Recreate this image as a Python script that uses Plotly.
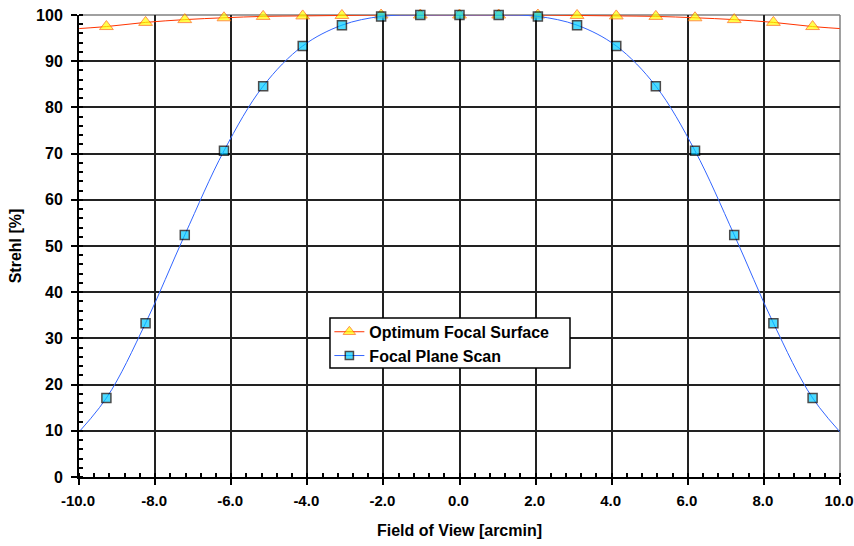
import plotly.graph_objects as go

# Field positions (arcmin), markers at k*1.031; line endpoints beyond axis
fov = [-10.31, -9.28, -8.25, -7.22, -6.19, -5.16, -4.12, -3.09, -2.06, -1.03, 0.0,
       1.03, 2.06, 3.09, 4.12, 5.16, 6.19, 7.22, 8.25, 9.28, 10.31]
optimum = [96.9, 97.5, 98.4, 99.0, 99.4, 99.7, 99.8, 99.9, 100.0, 100.0, 100.0,
           100.0, 100.0, 99.9, 99.8, 99.7, 99.4, 99.0, 98.4, 97.5, 96.9]
scan = [7.0, 17.1, 33.3, 52.4, 70.6, 84.6, 93.3, 97.8, 99.7, 100.0, 100.0,
        100.0, 99.7, 97.8, 93.3, 84.6, 70.6, 52.4, 33.3, 17.1, 7.0]
marker_shown = [0] + [1] * 19 + [0]

x_ticks = [-10, -8, -6, -4, -2, 0, 2, 4, 6, 8, 10]
y_ticks = list(range(0, 101, 10))

FONT = "Liberation Sans, Arial, sans-serif"

fig = go.Figure()
fig.add_trace(go.Scatter(
    x=fov, y=optimum, name="Optimum Focal Surface", mode="lines+markers",
    line=dict(color="#FF3300", width=1, shape="spline"),
    marker=dict(symbol="triangle-up", size=[12 * m for m in marker_shown],
                color="#FFFF00", line=dict(color="#FF6600", width=1)),
    cliponaxis=False,
))
fig.add_trace(go.Scatter(
    x=fov, y=scan, name="Focal Plane Scan", mode="lines+markers",
    line=dict(color="#3366FF", width=1, shape="spline"),
    marker=dict(symbol="square", size=[9 * m for m in marker_shown],
                color="#00CCFF", line=dict(color="#000000", width=1.5)),
    cliponaxis=False,
))

fig.update_layout(
    width=854, height=546,
    margin=dict(l=79, r=14, t=15, b=69),
    paper_bgcolor="white", plot_bgcolor="white",
    font=dict(family=FONT, size=16, color="black"),
    showlegend=True,
    legend=dict(
        x=0.329, y=0.351, xanchor="left", yanchor="top",
        bgcolor="rgba(0,0,0,0)", borderwidth=0,
        font=dict(family=FONT, size=16, color="black", weight="bold"),
        tracegroupgap=0, itemwidth=30,
    ),
    xaxis=dict(
        range=[-10, 10], tickvals=x_ticks,
        ticktext=[f"{v:.1f}" for v in x_ticks],
        tickfont=dict(family=FONT, size=15, weight="bold"),
        automargin=False, ticklabeloverflow="allow",
        showgrid=True, gridcolor="#222222", gridwidth=1.5,
        showline=True, linecolor="black", linewidth=2, mirror=False,
        ticks="outside", ticklen=6, tickcolor="black", tickwidth=1.5,
        ticklabelstandoff=3, ticklabelshift=-1,
        minor=dict(dtick=0.4, ticks="inside", ticklen=4, tickcolor="black", showgrid=False),
        zeroline=False,
        title=dict(text="Field of View [arcmin]", standoff=17,
                   font=dict(family=FONT, size=16, weight="bold")),
    ),
    yaxis=dict(
        range=[0, 100], tickvals=y_ticks,
        tickfont=dict(family=FONT, size=16, weight="bold"),
        automargin=False, ticklabeloverflow="allow",
        showgrid=True, gridcolor="#222222", gridwidth=1.5,
        showline=True, linecolor="black", linewidth=2,
        ticks="outside", ticklen=6, tickcolor="black", tickwidth=1.5,
        ticklabelstandoff=5,
        minor=dict(dtick=2, ticks="inside", ticklen=4, tickcolor="black", showgrid=False),
        zeroline=False,
        title=dict(text="Strehl [%]", standoff=10,
                   font=dict(family=FONT, size=16, weight="bold")),
    ),
    shapes=[
        dict(type="line", xref="paper", yref="paper", x0=0, x1=1, y0=1, y1=1,
             line=dict(color="#808080", width=1.5), layer="below"),
        dict(type="line", xref="paper", yref="paper", x0=1, x1=1, y0=0, y1=1,
             line=dict(color="#808080", width=1.5), layer="below"),
        # legend box
        dict(type="rect", xref="paper", yref="paper", x0=0.3298, x1=0.6452,
             y0=0.236, y1=0.344, fillcolor="white",
             line=dict(color="black", width=1.5), layer="above"),
    ],
)

fig.write_html(
    "out.html",
    config={"displayModeBar": False},
    post_script="document.body.style.margin='0px';"
                "document.documentElement.style.overflow='hidden';",
)
